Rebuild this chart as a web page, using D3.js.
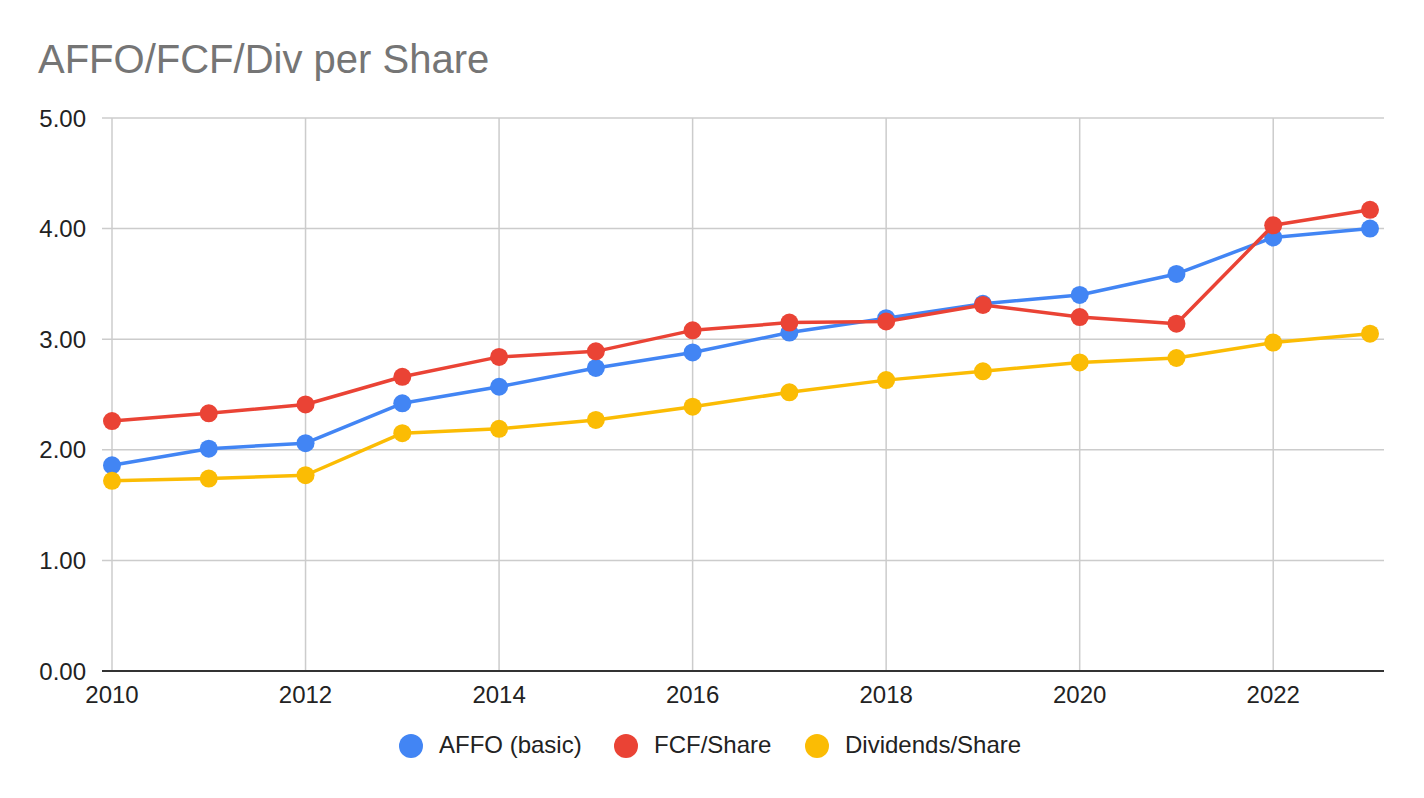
<!DOCTYPE html>
<html>
<head>
<meta charset="utf-8">
<script src="https://cdn.jsdelivr.net/npm/d3@7"></script>
<style>
  body { margin: 0; background: #fff; }
  text { font-family: "Liberation Sans", Arial, sans-serif; }
</style>
</head>
<body>
<svg id="chart" width="1424" height="798"></svg>
<script>
var years = [2010, 2011, 2012, 2013, 2014, 2015, 2016, 2017, 2018, 2019, 2020, 2021, 2022, 2023];
var affo = [1.86, 2.01, 2.06, 2.42, 2.57, 2.74, 2.88, 3.06, 3.19, 3.32, 3.40, 3.59, 3.92, 4.00];
var fcf = [2.26, 2.33, 2.41, 2.66, 2.84, 2.89, 3.08, 3.15, 3.16, 3.31, 3.20, 3.14, 4.03, 4.17];
var divs = [1.72, 1.74, 1.77, 2.15, 2.19, 2.27, 2.39, 2.52, 2.63, 2.71, 2.79, 2.83, 2.97, 3.05];
var xTicks = [2010, 2012, 2014, 2016, 2018, 2020, 2022];
var yTicks = [0, 1, 2, 3, 4, 5];

var seriesList = [
    {name: "AFFO (basic)", values: affo, color: "#4285f4"},
    {name: "FCF/Share", values: fcf, color: "#ea4335"},
    {name: "Dividends/Share", values: divs, color: "#fbbc04"}
];

var svg = d3.select("#chart");
var plotLeft = 112, plotRight = 1384, plotTop = 118, plotBottom = 671;

var x = d3.scaleLinear().domain([2010, 2023]).range([plotLeft, 1370]);
var y = d3.scaleLinear().domain([0, 5]).range([plotBottom, plotTop]);

svg.append("text")
    .attr("x", 38).attr("y", 73)
    .attr("font-size", 40)
    .attr("fill", "#757575")
    .text("AFFO/FCF/Div per Share");

// grid
var grid = svg.append("g");
grid.selectAll(".hg").data(yTicks.filter(function(d) { return d > 0; })).enter()
    .append("line")
    .attr("x1", plotLeft - 10).attr("x2", plotRight)
    .attr("y1", function(d) { return y(d); })
    .attr("y2", function(d) { return y(d); })
    .attr("stroke", "#cccccc").attr("stroke-width", 1.5);
grid.selectAll(".vg").data(xTicks).enter()
    .append("line")
    .attr("x1", function(d) { return x(d); })
    .attr("x2", function(d) { return x(d); })
    .attr("y1", plotTop).attr("y2", plotBottom)
    .attr("stroke", "#cccccc").attr("stroke-width", 1.5);

svg.append("line")
    .attr("x1", plotLeft - 10).attr("x2", plotRight)
    .attr("y1", plotBottom).attr("y2", plotBottom)
    .attr("stroke", "#333333").attr("stroke-width", 2);

// axis labels
svg.selectAll(".yl").data(yTicks).enter()
    .append("text")
    .attr("x", 86).attr("y", function(d) { return y(d) + 8.5; })
    .attr("text-anchor", "end")
    .attr("font-size", 24)
    .attr("fill", "#222")
    .text(function(d) { return d3.format(".2f")(d); });

svg.selectAll(".xl").data(xTicks).enter()
    .append("text")
    .attr("x", function(d) { return x(d); }).attr("y", 703)
    .attr("text-anchor", "middle")
    .attr("font-size", 24)
    .attr("fill", "#222")
    .text(function(d) { return d; });

var line = d3.line()
    .x(function(d, i) { return x(years[i]); })
    .y(function(d) { return y(d); });

seriesList.forEach(function(s) {
    var g = svg.append("g");
    g.append("path")
        .attr("d", line(s.values))
        .attr("fill", "none")
        .attr("stroke", s.color)
        .attr("stroke-width", 3.5)
        .attr("stroke-linejoin", "round");
    g.selectAll("circle").data(s.values).enter()
        .append("circle")
        .attr("cx", function(d, i) { return x(years[i]); })
        .attr("cy", function(d) { return y(d); })
        .attr("r", 9)
        .attr("fill", s.color);
});

// legend
var legendX = [411, 626, 817];
var legend = svg.append("g");
seriesList.forEach(function(s, i) {
    legend.append("circle")
        .attr("cx", legendX[i]).attr("cy", 746)
        .attr("r", 12)
        .attr("fill", s.color);
    legend.append("text")
        .attr("x", legendX[i] + 28).attr("y", 753)
        .attr("font-size", 24)
        .attr("fill", "#222")
        .text(s.name);
});
</script>
</body>
</html>
